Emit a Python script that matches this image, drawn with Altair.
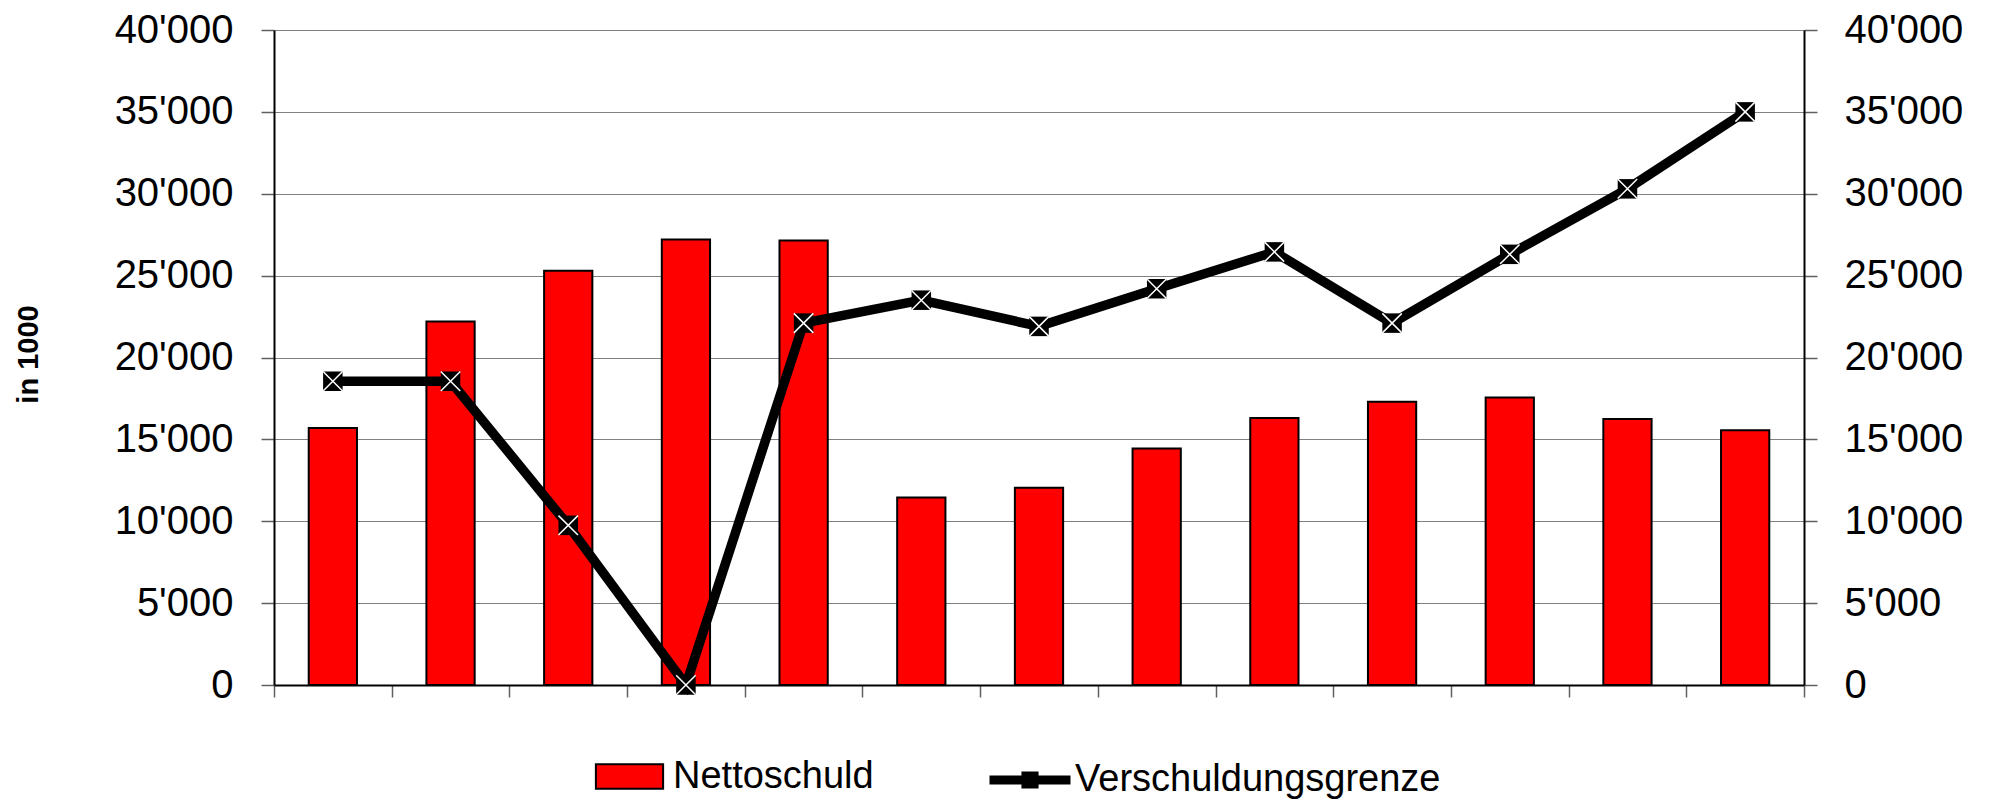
import altair as alt
import pandas as pd

categories = [str(i) for i in range(1, 14)]
nettoschuld = [15700, 22200, 25300, 27200, 27150, 11450, 12050, 14450, 16300, 17300, 17550, 16250, 15550]
grenze = [18550, 18550, 9750, 0, 22100, 23500, 21900, 24200, 26450, 22100, 26300, 30300, 35000]
series = ["Nettoschuld", "Verschuldungsgrenze"]
y_ticks = [0, 5000, 10000, 15000, 20000, 25000, 30000, 35000, 40000]

df_bar = pd.DataFrame({"cat": categories, "value": nettoschuld, "series": series[0]})
df_line = pd.DataFrame({"cat": categories, "value": grenze, "series": series[1]})

label_expr = "replace(format(datum.value, ','), ',', \"'\")"
yscale = alt.Scale(domain=[0, 40000], nice=False)
legend_font = "Liberation Sans"

xenc = alt.X(
    "cat:N", sort=categories,
    scale=alt.Scale(paddingInner=0, paddingOuter=0),
    axis=alt.Axis(labels=False, title=None, tickBand="extent", ticks=True, tickSize=12,
                  tickColor="#606060", tickWidth=1.5, domainColor="black", domainWidth=2, grid=False),
)

left_axis = alt.Axis(
    values=y_ticks, labelExpr=label_expr, labelFont="Liberation Sans", labelFontSize=40,
    labelColor="black", labelPadding=28, tickSize=13, tickColor="#606060", tickWidth=1.5,
    domainColor="black", domainWidth=2, grid=True, gridColor="#808080", gridWidth=1,
    title="in 1000", titleFont="Liberation Sans", titleFontWeight="bold", titleFontSize=29,
    titleColor="black", titleAngle=270, titleAlign="center", titleBaseline="middle",
    titleX=-246, titleY=324,
)
right_axis = alt.Axis(
    orient="right", values=y_ticks, labelExpr=label_expr, labelFont="Liberation Sans",
    labelFontSize=40, labelColor="black", labelPadding=27, tickSize=13, tickColor="#606060",
    tickWidth=1.5, domainColor="black", domainWidth=2, grid=False, title=None,
)

bar_legend = alt.Legend(
    orient="none", legendX=314, legendY=705, title=None, padding=0,
    labelFont=legend_font, labelFontSize=38, labelColor="black", labelOffset=2, labelLimit=1000,
    symbolSize=6561, symbolType="M-0.83,-0.3H0.83V0.3H-0.83Z",
    symbolStrokeColor="black", symbolStrokeWidth=2, symbolOpacity=1,
)
line_legend = alt.Legend(
    orient="none", legendX=711, legendY=705, title=None, padding=0,
    labelFont=legend_font, labelFontSize=38, labelColor="black", labelOffset=0, labelLimit=1000,
    symbolSize=6561, symbolType="M-1,0H1M-0.1,-0.1H0.1V0.1H-0.1Z",
    symbolStrokeWidth=9, symbolOpacity=1,
)

bars = alt.Chart(df_bar).mark_bar(stroke="black", strokeWidth=2, width=alt.RelativeBandSize(0.41)).encode(
    x=xenc,
    y=alt.Y("value:Q", scale=yscale, axis=left_axis),
    color=alt.Color("series:N", scale=alt.Scale(domain=[series[0]], range=["#ff0000"]), legend=bar_legend),
)

line = alt.Chart(df_line).mark_line(strokeWidth=9.5).encode(
    x=alt.X("cat:N", sort=categories),
    y=alt.Y("value:Q", scale=yscale, axis=right_axis),
    stroke=alt.Stroke("series:N", scale=alt.Scale(domain=[series[1]], range=["#000000"]), legend=line_legend),
)

squares = alt.Chart(df_line).mark_point(shape="square", filled=True, color="black", size=380, opacity=1).encode(
    x=alt.X("cat:N", sort=categories),
    y=alt.Y("value:Q", scale=yscale, axis=None),
)

crosses = alt.Chart(df_line).mark_point(
    shape="M-1,-1L1,1M-1,1L1,-1", filled=False, stroke="white", strokeWidth=1.5, size=380, opacity=1
).encode(
    x=alt.X("cat:N", sort=categories),
    y=alt.Y("value:Q", scale=yscale, axis=None),
)

chart = alt.layer(bars, line, squares, crosses).resolve_scale(y="shared").resolve_axis(y="independent").properties(
    width=1530, height=655, autosize="none",
    padding={"left": 266, "top": 22, "right": 172, "bottom": 114},
).configure_view(stroke="black", strokeWidth=2).configure(background="white")

chart.save("out.html", embed_options={"renderer": "svg", "actions": False})
